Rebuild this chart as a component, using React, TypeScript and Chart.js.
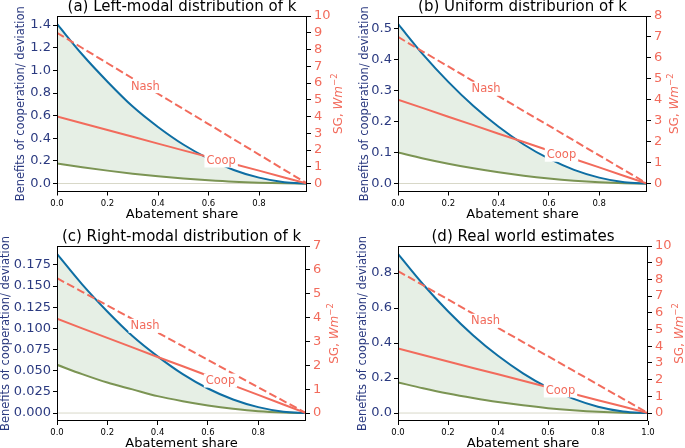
import React, { useEffect, useRef } from "react";
import { Chart, registerables } from "chart.js";

Chart.register(...registerables);

const FONT = "'DejaVu Sans', sans-serif";
const NAVY = "#2b3a80";
const SALMON = "#f26b5c";
const BLUE = "#0e6ea3";
const GREEN = "#7b9453";
const FILL = "#e6efe5";
const ZERO = "#d8d8c8";

// ---------- data ----------
const titleA = "(a) Left-modal distribution of k";
const titleB = "(b) Uniform distriburion of k";
const titleC = "(c) Right-modal distribution of k";
const titleD = "(d) Real world estimates";

const xLabel = "Abatement share";
const yLabel = "Benefits of cooperation/ deviation";
const nashText = "Nash";
const coopText = "Coop";
const nashLabelX = 0.35;
const coopLabelX = 0.65;

const xsABC = [0, 0.1, 0.2, 0.3, 0.4, 0.5, 0.6, 0.7, 0.8, 0.9, 0.99];
const xsD = [0, 0.1, 0.2, 0.3, 0.4, 0.5, 0.6, 0.7, 0.8, 0.9, 1.0];

const blueA = [1.41, 1.14, 0.9, 0.68, 0.5, 0.345, 0.22, 0.12, 0.052, 0.012, 0];
const greenA = [0.178, 0.144, 0.114, 0.087, 0.064, 0.044, 0.028, 0.015, 0.0066, 0.0015, 0];
const coopA = [4.0, 3.6, 3.19, 2.79, 2.38, 1.98, 1.58, 1.17, 0.77, 0.36, 0];
const nashA = [9.0, 8.09, 7.18, 6.27, 5.36, 4.45, 3.55, 2.64, 1.73, 0.82, 0];

const blueB = [0.515, 0.416, 0.328, 0.25, 0.183, 0.126, 0.08, 0.044, 0.019, 0.004, 0];
const greenB = [0.1, 0.081, 0.064, 0.049, 0.036, 0.025, 0.016, 0.009, 0.004, 0.001, 0];
const coopB = [4.0, 3.6, 3.19, 2.79, 2.38, 1.98, 1.58, 1.17, 0.77, 0.36, 0];
const nashB = [7.0, 6.29, 5.59, 4.88, 4.17, 3.46, 2.76, 2.05, 1.34, 0.64, 0];

const blueC = [0.188, 0.152, 0.12, 0.091, 0.067, 0.046, 0.029, 0.016, 0.007, 0.0016, 0];
const greenC = [0.057, 0.046, 0.036, 0.028, 0.02, 0.014, 0.009, 0.005, 0.002, 0.0005, 0];
const coopC = [3.95, 3.55, 3.15, 2.75, 2.35, 1.96, 1.56, 1.16, 0.76, 0.36, 0];
const nashC = [5.65, 5.08, 4.51, 3.94, 3.37, 2.8, 2.23, 1.65, 1.08, 0.51, 0];

const blueD = [0.909, 0.736, 0.582, 0.445, 0.327, 0.227, 0.145, 0.082, 0.036, 0.009, 0];
const greenD = [0.175, 0.142, 0.112, 0.086, 0.063, 0.044, 0.028, 0.016, 0.007, 0.002, 0];
const coopD = [3.86, 3.47, 3.09, 2.7, 2.32, 1.93, 1.54, 1.16, 0.77, 0.39, 0];
const nashD = [8.5, 7.65, 6.8, 5.95, 5.1, 4.25, 3.4, 2.55, 1.7, 0.85, 0];

const xTicksABC = [0, 0.2, 0.4, 0.6, 0.8];
const xTicksD = [0, 0.2, 0.4, 0.6, 0.8, 1.0];
const leftTicksA = [0, 0.2, 0.4, 0.6, 0.8, 1.0, 1.2, 1.4];
const leftTicksB = [0, 0.1, 0.2, 0.3, 0.4, 0.5];
const leftTicksC = [0, 0.025, 0.05, 0.075, 0.1, 0.125, 0.15, 0.175];
const leftTicksD = [0, 0.2, 0.4, 0.6, 0.8];
const rightTicksA = [0, 1, 2, 3, 4, 5, 6, 7, 8, 9, 10];
const rightTicksB = [0, 1, 2, 3, 4, 5, 6, 7, 8];
const rightTicksC = [0, 1, 2, 3, 4, 5, 6, 7];
const rightTicksD = [0, 1, 2, 3, 4, 5, 6, 7, 8, 9, 10];

// ---------- panel setup ----------
type Panel = {
  title: string;
  xs: number[];
  blue: number[];
  green: number[];
  coop: number[];
  nash: number[];
  xMax: number;
  left: [number, number];
  right: [number, number];
  xTicks: number[];
  leftTicks: number[];
  rightTicks: number[];
  leftDec: number;
};

type Frame = {
  x: number;
  y: number;
  w: number;
  h: number;
  l: number;
  r: number;
  t: number;
  b: number;
  yDx: number;
  rDx: number;
};

const panels: { p: Panel; f: Frame }[] = [
  {
    p: { title: titleA, xs: xsABC, blue: blueA, green: greenA, coop: coopA, nash: nashA, xMax: 0.99,
      left: [-0.0705, 1.4805], right: [-0.476, 10], xTicks: xTicksABC, leftTicks: leftTicksA, rightTicks: rightTicksA, leftDec: 1 },
    f: { x: 0, y: 0, w: 345, h: 224, l: 57, r: 307, t: 16, b: 191.5, yDx: 36, rDx: 30 },
  },
  {
    p: { title: titleB, xs: xsABC, blue: blueB, green: greenB, coop: coopB, nash: nashB, xMax: 0.99,
      left: [-0.0258, 0.5408], right: [-0.381, 8], xTicks: xTicksABC, leftTicks: leftTicksB, rightTicks: rightTicksB, leftDec: 1 },
    f: { x: 345, y: 0, w: 340, h: 224, l: 398, r: 647, t: 16, b: 191.5, yDx: 33, rDx: 26 },
  },
  {
    p: { title: titleC, xs: xsABC, blue: blueC, green: greenC, coop: coopC, nash: nashC, xMax: 0.99,
      left: [-0.0094, 0.1974], right: [-0.334, 7], xTicks: xTicksABC, leftTicks: leftTicksC, rightTicks: rightTicksC, leftDec: 3 },
    f: { x: 0, y: 224, w: 345, h: 224, l: 57, r: 306, t: 246, b: 421, yDx: 51, rDx: 27 },
  },
  {
    p: { title: titleD, xs: xsD, blue: blueD, green: greenD, coop: coopD, nash: nashD, xMax: 1.0,
      left: [-0.0455, 0.9545], right: [-0.477, 10], xTicks: xTicksD, leftTicks: leftTicksD, rightTicks: rightTicksD, leftDec: 1 },
    f: { x: 345, y: 224, w: 340, h: 224, l: 398, r: 648, t: 246, b: 421, yDx: 35, rDx: 30 },
  },
];

function pts(xs: number[], ys: number[]) {
  return xs.map((x, i) => ({ x, y: ys[i] }));
}

function interp(xs: number[], ys: number[], x: number) {
  for (let i = 0; i < xs.length - 1; i++) {
    if (x >= xs[i] && x <= xs[i + 1]) {
      const t = (x - xs[i]) / (xs[i + 1] - xs[i]);
      return ys[i] + t * (ys[i + 1] - ys[i]);
    }
  }
  return ys[ys.length - 1];
}

function drawRightLabel(ctx: CanvasRenderingContext2D, x: number, y: number) {
  const parts = [
    { t: "SG, ", f: `12px ${FONT}`, dy: 0 },
    { t: "Wm", f: `italic 12px ${FONT}`, dy: 0 },
    { t: "\u22122", f: `8.5px ${FONT}`, dy: -5 },
  ];
  let total = 0;
  const widths = parts.map((p) => {
    ctx.font = p.f;
    const w = ctx.measureText(p.t).width;
    total += w;
    return w;
  });
  ctx.save();
  ctx.translate(x, y);
  ctx.rotate(-Math.PI / 2);
  ctx.fillStyle = SALMON;
  ctx.textAlign = "left";
  ctx.textBaseline = "alphabetic";
  let cx = -total / 2;
  parts.forEach((p, i) => {
    ctx.font = p.f;
    ctx.fillText(p.t, cx, 4.5 + p.dy);
    cx += widths[i];
  });
  ctx.restore();
}

function makeDecor(p: Panel, f: Frame) {
  return {
    id: "decor",
    afterDatasetsDraw(chart: any) {
      const ctx: CanvasRenderingContext2D = chart.ctx;
      const a = chart.chartArea;
      const xs = chart.scales.x;
      const y2 = chart.scales.y2;
      // frame
      ctx.save();
      ctx.strokeStyle = "#000";
      ctx.lineWidth = 1;
      ctx.strokeRect(Math.round(a.left) + 0.5, Math.round(a.top) + 0.5, Math.round(a.right - a.left) - 1, Math.round(a.bottom - a.top) - 1);
      // inline labels
      ctx.font = `11.5px ${FONT}`;
      ctx.textAlign = "center";
      ctx.textBaseline = "middle";
      const labels = [
        { t: nashText, x: nashLabelX, ys: p.nash },
        { t: coopText, x: coopLabelX, ys: p.coop },
      ];
      labels.forEach((lb) => {
        const px = xs.getPixelForValue(lb.x);
        const py = y2.getPixelForValue(interp(p.xs, lb.ys, lb.x));
        const w = ctx.measureText(lb.t).width;
        ctx.fillStyle = "#fff";
        ctx.fillRect(px - w / 2 - 2, py - 7, w + 4, 14);
        ctx.fillStyle = SALMON;
        ctx.fillText(lb.t, px, py + 0.5);
      });
      ctx.restore();
    },
    afterDraw(chart: any) {
      const ctx: CanvasRenderingContext2D = chart.ctx;
      const a = chart.chartArea;
      const cx = (a.left + a.right) / 2;
      const cy = (a.top + a.bottom) / 2;
      ctx.save();
      // title
      ctx.fillStyle = "#000";
      ctx.font = `15px ${FONT}`;
      ctx.textAlign = "center";
      ctx.textBaseline = "alphabetic";
      ctx.fillText(p.title, cx, a.top - 5);
      // x label
      ctx.font = `13px ${FONT}`;
      ctx.fillText(xLabel, cx, a.bottom + 26);
      // left y label
      ctx.save();
      ctx.translate(a.left - f.yDx, cy);
      ctx.rotate(-Math.PI / 2);
      ctx.fillStyle = NAVY;
      ctx.font = `11.5px ${FONT}`;
      ctx.textBaseline = "middle";
      ctx.fillText(yLabel, 0, 0);
      ctx.restore();
      // right y label
      drawRightLabel(ctx, a.right + f.rDx, cy);
      ctx.restore();
    },
  };
}

function PanelChart({ p, f }: { p: Panel; f: Frame }) {
  const ref = useRef<HTMLCanvasElement>(null);
  useEffect(() => {
    const W = f.w;
    const H = f.h;
    const lLoc = f.l - f.x;
    const rLoc = f.r - f.x;
    const tLoc = f.t - f.y;
    const bLoc = f.b - f.y;
    const tickGrid = {
      display: true,
      drawOnChartArea: false,
      drawTicks: true,
      tickLength: 4,
      tickColor: "#000",
      tickWidth: 1,
      color: "#000",
    };
    const chart = new Chart(ref.current as HTMLCanvasElement, {
      type: "line",
      data: {
        datasets: [
          {
            label: "Nash",
            data: pts(p.xs, p.nash),
            yAxisID: "y2",
            borderColor: SALMON,
            borderWidth: 2,
            borderDash: [8, 3.5],
            pointRadius: 0,
            fill: false,
            tension: 0,
          },
          {
            label: "Coop",
            data: pts(p.xs, p.coop),
            yAxisID: "y2",
            borderColor: SALMON,
            borderWidth: 2,
            pointRadius: 0,
            fill: false,
            tension: 0,
          },
          {
            label: "Benefits of cooperation",
            data: pts(p.xs, p.blue),
            yAxisID: "y",
            borderColor: BLUE,
            borderWidth: 2,
            pointRadius: 0,
            cubicInterpolationMode: "monotone",
            fill: "+1",
            backgroundColor: FILL,
          },
          {
            label: "Benefits of deviation",
            data: pts(p.xs, p.green),
            yAxisID: "y",
            borderColor: GREEN,
            borderWidth: 2,
            pointRadius: 0,
            cubicInterpolationMode: "monotone",
            fill: false,
          },
          {
            label: "zero",
            data: [
              { x: 0, y: 0 },
              { x: p.xMax, y: 0 },
            ],
            yAxisID: "y",
            borderColor: ZERO,
            borderWidth: 1,
            pointRadius: 0,
            fill: false,
          },
        ],
      },
      options: {
        animation: false,
        responsive: false,
        devicePixelRatio: 1,
        layout: { padding: { top: tLoc, left: 0, right: 0, bottom: 0 } },
        plugins: {
          legend: { display: false },
          tooltip: { enabled: false },
          title: { display: false },
          filler: { drawTime: "beforeDatasetsDraw" },
        },
        scales: {
          x: {
            type: "linear",
            min: 0,
            max: p.xMax,
            grid: tickGrid,
            border: { display: false },
            afterBuildTicks: (s: any) => {
              s.ticks = p.xTicks.map((v) => ({ value: v }));
            },
            afterFit: (s: any) => {
              s.height = H - bLoc;
            },
            ticks: {
              font: { family: FONT, size: 8.5 },
              color: "#000",
              padding: 3,
              maxRotation: 0,
              autoSkip: false,
              callback: (v: any) => Number(v).toFixed(1),
            },
          },
          y: {
            type: "linear",
            position: "left",
            min: p.left[0],
            max: p.left[1],
            grid: tickGrid,
            border: { display: false },
            afterBuildTicks: (s: any) => {
              s.ticks = p.leftTicks.map((v) => ({ value: v }));
            },
            afterFit: (s: any) => {
              s.width = lLoc;
            },
            ticks: {
              font: { family: FONT, size: 13 },
              color: NAVY,
              padding: 2,
              autoSkip: false,
              callback: (v: any) => Number(v).toFixed(p.leftDec),
            },
          },
          y2: {
            type: "linear",
            position: "right",
            min: p.right[0],
            max: p.right[1],
            grid: tickGrid,
            border: { display: false },
            afterBuildTicks: (s: any) => {
              s.ticks = p.rightTicks.map((v) => ({ value: v }));
            },
            afterFit: (s: any) => {
              s.width = W - rLoc;
            },
            ticks: {
              font: { family: FONT, size: 13 },
              color: SALMON,
              padding: 3,
              autoSkip: false,
              callback: (v: any) => String(Math.round(Number(v))),
            },
          },
        },
      } as any,
      plugins: [makeDecor(p, f)],
    });
    return () => chart.destroy();
  }, []);
  return (
    <canvas
      ref={ref}
      width={f.w}
      height={f.h}
      style={{ position: "absolute", left: f.x, top: f.y, width: f.w, height: f.h }}
    />
  );
}

export default function App() {
  return (
    <div style={{ position: "absolute", left: 0, top: 0, width: 685, height: 448, background: "#fff", overflow: "hidden" }}>
      {panels.map((pf, i) => (
        <PanelChart key={i} p={pf.p} f={pf.f} />
      ))}
    </div>
  );
}
